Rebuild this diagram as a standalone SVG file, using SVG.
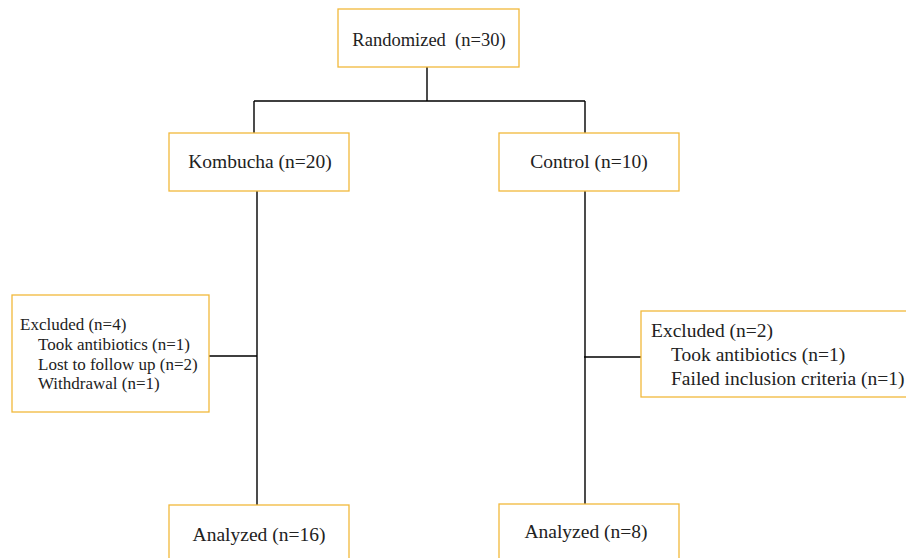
<svg xmlns="http://www.w3.org/2000/svg" width="906" height="558" viewBox="0 0 906 558">
<style>
.box{fill:#fff;stroke:#F2B93B;stroke-width:1.3}
.ln{fill:none;stroke:#000;stroke-width:1.4}
text{font-family:"Liberation Serif","Times New Roman",serif;fill:#222}
.t{font-size:19.5px}
.s{font-size:17px}
</style>
<rect width="906" height="558" fill="#fff"/>
<g id="connectors">
<path class="ln" d="M427 67V101M254 101H585M254 101V133M585 101V133"/>
<path class="ln" d="M257 191V505M209 356H257"/>
<path class="ln" d="M585 191V504M584 357H641"/>
</g>
<g id="randomized"><rect class="box" x="338" y="9" width="181" height="58"/><text class="t" x="429" y="46" text-anchor="middle" font-size="18.5" style="font-size:18.5px" xml:space="preserve">Randomized  (n=30)</text></g>
<g id="kombucha"><rect class="box" x="169" y="133" width="180" height="58"/><text class="t" x="260" y="168" text-anchor="middle">Kombucha (n=20)</text></g>
<g id="control"><rect class="box" x="499" y="133" width="180" height="58"/><text class="t" x="589" y="168" text-anchor="middle">Control (n=10)</text></g>
<g id="excluded-left"><rect class="box" x="12" y="295" width="197" height="117"/>
<text class="s" x="20" y="330">Excluded (n=4)</text>
<text class="s" x="38" y="350">Took antibiotics (n=1)</text>
<text class="s" x="38" y="370">Lost to follow up (n=2)</text>
<text class="s" x="38" y="389">Withdrawal (n=1)</text></g>
<g id="excluded-right"><rect class="box" x="641" y="311" width="280" height="86"/>
<text class="t" x="651" y="337">Excluded (n=2)</text>
<text class="t" x="671" y="361">Took antibiotics (n=1)</text>
<text class="t" x="671" y="385">Failed inclusion criteria (n=1)</text></g>
<g id="analyzed-left"><rect class="box" x="169" y="505" width="180" height="70"/><text class="t" x="259" y="541" text-anchor="middle">Analyzed (n=16)</text></g>
<g id="analyzed-right"><rect class="box" x="499" y="504" width="180" height="70"/><text class="t" x="586" y="538" text-anchor="middle">Analyzed (n=8)</text></g>
</svg>
